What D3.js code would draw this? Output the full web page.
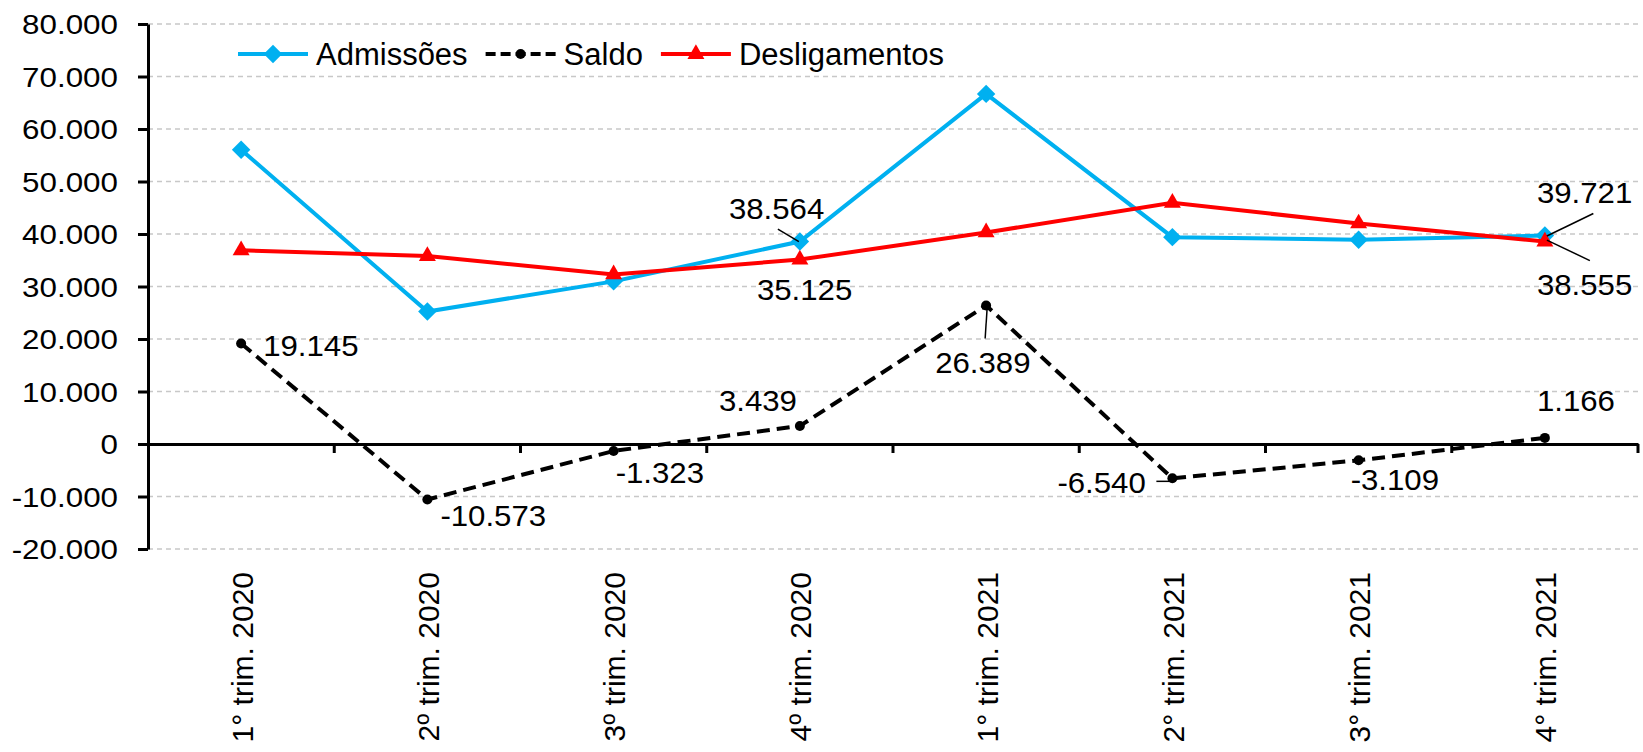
<!DOCTYPE html>
<html>
<head>
<meta charset="utf-8">
<script src="https://cdn.jsdelivr.net/npm/d3@7"></script>
<style>
body { margin: 0; background: #fff; }
text { font-family: "Liberation Sans", Arial, sans-serif; fill: #000; }
</style>
</head>
<body>
<div id="chart"></div>
<script>
// dados
var categorias = ["1° trim. 2020", "2º trim. 2020", "3º trim. 2020", "4º trim. 2020",
                  "1° trim. 2021", "2° trim. 2021", "3° trim. 2021", "4° trim. 2021"];
var admissoes     = [56045, 25230, 30980, 38564, 66690, 39400, 38900, 39721];
var saldo         = [19145, -10573, -1323, 3439, 26389, -6540, -3109, 1166];
var desligamentos = [36900, 35803, 32303, 35125, 40301, 45940, 42009, 38555];
var yTicks = [-20000, -10000, 0, 10000, 20000, 30000, 40000, 50000, 60000, 70000, 80000];
var nomesSeries = ["Admissões", "Saldo", "Desligamentos"];

var W = 1643, H = 752;
var mLeft = 148, mRight = 1638, mTop = 24, mBottom = 549;

var svg = d3.select("#chart").append("svg")
	.attr("width", W)
	.attr("height", H);

var x = d3.scaleBand().domain(categorias).range([mLeft, mRight]).padding(0);
var y = d3.scaleLinear().domain([-20000, 80000]).range([mBottom, mTop]);
function cx(i) { return x(categorias[i]) + x.bandwidth() / 2; }

var br = d3.formatLocale({decimal: ",", thousands: ".", grouping: [3], currency: ["R$", ""], minus: "-"});
var fmt = br.format(",d");

// grade tracejada
svg.append("g").selectAll("line")
	.data(yTicks.filter(function(d) { return d !== 0; }))
	.enter().append("line")
	.attr("x1", mLeft).attr("x2", mRight)
	.attr("y1", function(d) { return y(d); })
	.attr("y2", function(d) { return y(d); })
	.style("stroke", "#c8c8c8")
	.style("stroke-width", 1.3)
	.style("stroke-dasharray", "5,4");

// eixo y
var yAxis = svg.append("g")
	.attr("transform", "translate(" + mLeft + ",0)")
	.call(d3.axisLeft(y).tickValues(yTicks).tickSize(10).tickSizeOuter(0).tickFormat(fmt));
yAxis.select(".domain").style("stroke", "#000").style("stroke-width", 3);
yAxis.selectAll(".tick line").style("stroke", "#000").style("stroke-width", 3);
yAxis.selectAll(".tick text")
	.attr("x", null).attr("dy", "0.35em")
	.attr("transform", "translate(-30,0) scale(1.12,1)")
	.style("font-size", "28px")
	.style("text-anchor", "end");

// eixo x (no zero)
var xAxis = svg.append("g")
	.attr("transform", "translate(0," + y(0) + ")")
	.call(d3.axisBottom(x).tickSize(0).tickSizeOuter(0));
xAxis.select(".domain").style("stroke", "#000").style("stroke-width", 3);
xAxis.selectAll(".tick text")
	.attr("x", 0).attr("y", 0).attr("dy", "0.35em")
	.attr("transform", "translate(1,128) rotate(-90)")
	.style("font-size", "30px")
	.style("text-anchor", "end");

// marcas entre categorias
svg.append("g").selectAll("line")
	.data(d3.range(1, categorias.length + 1))
	.enter().append("line")
	.attr("x1", function(d) { return mLeft + d * x.bandwidth(); })
	.attr("x2", function(d) { return mLeft + d * x.bandwidth(); })
	.attr("y1", y(0)).attr("y2", y(0) + 9)
	.style("stroke", "#000")
	.style("stroke-width", 3);

var linha = d3.line()
	.x(function(d, i) { return cx(i); })
	.y(function(d) { return y(d); });

var diamante = d3.symbol().type(d3.symbolSquare).size(170);
var triangulo = d3.symbol().type(d3.symbolTriangle).size(125);

// Admissões
svg.append("path").datum(admissoes)
	.attr("d", linha)
	.style("fill", "none").style("stroke", "#00B0F0").style("stroke-width", 4);
svg.append("g").selectAll("path").data(admissoes).enter().append("path")
	.attr("d", diamante)
	.attr("transform", function(d, i) { return "translate(" + cx(i) + "," + y(d) + ") rotate(45)"; })
	.style("fill", "#00B0F0");

// Saldo
svg.append("path").datum(saldo)
	.attr("d", linha)
	.style("fill", "none").style("stroke", "#000").style("stroke-width", 4)
	.style("stroke-dasharray", "13,7");
svg.append("g").selectAll("circle").data(saldo).enter().append("circle")
	.attr("cx", function(d, i) { return cx(i); })
	.attr("cy", function(d) { return y(d); })
	.attr("r", 5)
	.style("fill", "#000");

// Desligamentos
svg.append("path").datum(desligamentos)
	.attr("d", linha)
	.style("fill", "none").style("stroke", "#FF0000").style("stroke-width", 4);
svg.append("g").selectAll("path").data(desligamentos).enter().append("path")
	.attr("d", triangulo)
	.attr("transform", function(d, i) { return "translate(" + cx(i) + "," + y(d) + ")"; })
	.style("fill", "#FF0000");

// rótulos de dados (deslocamento em relação ao ponto, guia opcional)
var series = {"Admissões": admissoes, "Saldo": saldo, "Desligamentos": desligamentos};
var rotulos = [
	{s: "Saldo", i: 0, dx: 22, dy: 12.5},
	{s: "Saldo", i: 1, dx: 13, dy: 26.5},
	{s: "Saldo", i: 2, dx: 2, dy: 32},
	{s: "Saldo", i: 3, dx: -81, dy: -14.5},
	{s: "Saldo", i: 4, dx: -51, dy: 68, guia: [-1, 33, 1, 3]},
	{s: "Saldo", i: 5, dx: -115, dy: 15, guia: [-16, 3, -2, 3]},
	{s: "Saldo", i: 6, dx: -8, dy: 30},
	{s: "Saldo", i: 7, dx: -8, dy: -27},
	{s: "Admissões", i: 3, dx: -71, dy: -23, guia: [-22, -12.5, -1, 0]},
	{s: "Admissões", i: 7, dx: -8, dy: -32.5, guia: [48.5, -22, 2, 0.5]},
	{s: "Desligamentos", i: 3, dx: -43, dy: 40.5},
	{s: "Desligamentos", i: 7, dx: -8, dy: 53.5, guia: [45, 19, 2, -1.5]}
];

var gRot = svg.append("g");
rotulos.forEach(function(r) {
	var v = series[r.s][r.i];
	var px = cx(r.i), py = y(v);
	if (r.guia) {
		gRot.append("line")
			.attr("x1", px + r.guia[0]).attr("y1", py + r.guia[1])
			.attr("x2", px + r.guia[2]).attr("y2", py + r.guia[3])
			.style("stroke", "#000").style("stroke-width", 1.5);
	}
	gRot.append("text")
		.attr("transform", "translate(" + (px + r.dx) + "," + (py + r.dy) + ") scale(1.04,1)")
		.style("font-size", "30px")
		.text(fmt(v));
});

// legenda
var cores = ["#00B0F0", "#000", "#FF0000"];
var leg = svg.append("g").attr("transform", "translate(238,54)");
var lx = 0;
nomesSeries.forEach(function(nome, k) {
	var g = leg.append("g").attr("transform", "translate(" + lx + ",0)");
	var ln = g.append("line")
		.attr("x1", 0).attr("x2", 70).attr("y1", 0).attr("y2", 0)
		.style("stroke", cores[k]).style("stroke-width", 4);
	if (k === 1) {
		ln.style("stroke-dasharray", "10,5");
		g.append("circle").attr("cx", 35).attr("cy", 0).attr("r", 5).style("fill", "#000");
	} else if (k === 0) {
		g.append("path").attr("d", diamante).attr("transform", "translate(35,0) rotate(45)").style("fill", cores[k]);
	} else {
		g.append("path").attr("d", triangulo).attr("transform", "translate(35,0)").style("fill", cores[k]);
	}
	var t = g.append("text")
		.attr("x", 78).attr("y", 11)
		.style("font-size", "31px")
		.text(nome);
	lx += 78 + t.node().getComputedTextLength() + 18;
});
</script>
</body>
</html>
